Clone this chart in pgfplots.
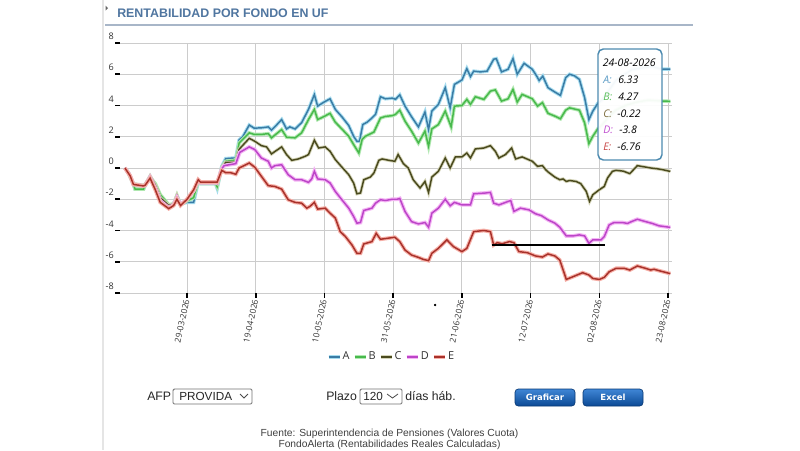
\documentclass[border=0pt]{standalone}
\usepackage{pgfplots}
\pgfplotsset{compat=1.18}
\usepackage{fontspec}
\setmainfont{Liberation Sans}
\newfontfamily\segoe{Open Sans}
\newfontfamily\verdana{DejaVu Sans}
\definecolor{cA}{HTML}{3A7CA5}
\definecolor{cB}{HTML}{48B94C}
\definecolor{cC}{HTML}{4A4A1E}
\definecolor{cD}{HTML}{BC45C8}
\definecolor{cE}{HTML}{A8322B}
\definecolor{hA}{HTML}{A6DCEF}
\definecolor{hB}{HTML}{B0E8B0}
\definecolor{hC}{HTML}{D4D4B8}
\definecolor{hD}{HTML}{F4B4F4}
\definecolor{hE}{HTML}{F6B0A8}
\definecolor{tA}{HTML}{5B9BC5}
\definecolor{tB}{HTML}{5BBF5B}
\definecolor{tC}{HTML}{7A6A3A}
\definecolor{tD}{HTML}{C050D0}
\definecolor{tE}{HTML}{C84848}
\definecolor{titleblue}{HTML}{5076A0}
\definecolor{btnTop}{HTML}{3F86D6}
\definecolor{btnBot}{HTML}{0B4994}
\begin{document}
\begin{tikzpicture}
\useasboundingbox (0,0) rectangle (600pt,-337.5pt);
\fill[white] (0,0) rectangle (600pt,-337.5pt);
\begin{axis}[
  at={(90pt,-219.75pt)}, anchor=south west,
  scale only axis, width=414pt, height=187.5pt,
  xmin=-20.5, xmax=148.2, ymin=-8, ymax=8,
  clip=false,
  axis line style={draw=none},
  tick pos=left, tick align=outside,
  major tick length=3.5pt,
  every tick/.style={black, line width=1.2pt},
  grid=major, grid style={color=black!20, line width=0.75pt},
  xtick={0,21,42,63,84,105,126,147},
  xticklabels={29-03-2026,19-04-2026,10-05-2026,31-05-2026,21-06-2026,12-07-2026,02-08-2026,23-08-2026},
  xticklabel style={rotate=78, anchor=east, font=\segoe\fontsize{6.3}{7}\selectfont, text=black!80, inner sep=1.5pt},
  ytick={-8,-6,-4,-2,0,2,4,6,8},
  yticklabels={-8,-6,-4,-2,0,2,4,6,8},
  yticklabel style={font=\segoe\fontsize{6.8}{7}\selectfont, text=black!80, yshift=5pt, inner xsep=1pt},
  legend columns=5,
  legend style={at={(0.491,-0.256)}, anchor=center, draw=none, fill=none,
    font=\segoe\fontsize{8.2}{9}\selectfont, text=black!80,
    nodes={inner sep=0.8pt},
    /tikz/every even column/.append style={column sep=1.6pt}},
  legend image code/.code={\draw[#1] (0pt,0pt) -- (8.5pt,0pt);},
]
\addplot[cA, line width=1.1pt, preaction={draw=hA, line width=2.6pt}] coordinates {
(-19.0,0.0) (-17.9,-0.3) (-16.4,-1.0) (-15.9,-1.35) (-13.3,-1.35) (-12.8,-1.1) (-11.3,-0.55) (-9.7,-1.1) (-8.2,-1.8) (-5.6,-2.4) (-4.1,-2.3) (-3.1,-1.8) (-2.0,-2.3) (0.0,-2.2) (2.0,-2.2) (3.4,-0.9) (4.1,-1.0) (8.7,-1.0) (9.2,-1.3) (10.6,0.1) (11.8,0.6) (14.9,0.65) (15.9,1.8) (17.0,2.0) (19.0,2.75) (20.5,2.55) (22.7,2.57) (24.8,2.63) (25.8,2.42) (26.8,2.63) (28.9,3.1) (30.4,2.5) (31.4,2.63) (33.0,2.5) (35.0,2.9) (37.1,3.75) (38.9,4.7) (39.9,3.96) (41.7,4.2) (43.7,4.43) (45.3,3.75) (47.3,3.28) (49.4,2.72) (50.9,2.03) (51.9,1.71) (52.7,1.71) (53.7,2.78) (55.0,2.93) (56.5,3.2) (57.6,3.43) (59.1,4.56) (60.6,4.43) (62.7,4.47) (63.7,4.4) (65.0,4.68) (66.6,3.96) (68.6,3.28) (70.7,2.63) (72.7,3.58) (73.8,2.46) (74.8,3.64) (76.8,4.07) (78.9,5.14) (80.4,3.85) (81.7,5.35) (84.0,5.63) (85.5,6.36) (86.6,5.85) (87.6,6.2) (89.6,6.15) (91.7,6.2) (93.7,6.96) (94.5,7.0) (96.1,6.15) (98.1,6.32) (99.6,7.0) (100.9,6.0) (103.0,6.7) (105.5,6.32) (106.8,5.9) (107.6,5.6) (108.7,5.88) (110.3,5.14) (112.4,4.86) (114.1,4.65) (115.7,5.78) (116.9,6.0) (118.4,5.9) (119.9,5.67) (121.5,4.5) (122.8,3.1) (124.0,3.64) (125.5,4.13) (127.0,4.4) (129.0,5.0) (131.0,5.6) (133.0,5.9) (136.0,6.3) (139.0,6.4) (142.0,6.5) (145.2,6.32) (147.7,6.33)
};
\addlegendentry{A}
\addplot[cB, line width=1.1pt, preaction={draw=hB, line width=2.6pt}] coordinates {
(-19.0,0.0) (-17.9,-0.35) (-16.4,-1.05) (-15.9,-1.35) (-13.3,-1.35) (-12.8,-1.05) (-11.3,-0.6) (-9.7,-1.0) (-8.2,-1.7) (-5.6,-2.35) (-4.1,-2.3) (-3.1,-1.75) (-2.0,-2.35) (0.0,-2.1) (2.0,-1.9) (3.4,-0.85) (4.1,-1.0) (8.7,-1.0) (9.2,-1.2) (10.6,0.05) (11.8,0.43) (14.9,0.5) (15.9,1.6) (19.0,2.25) (20.5,2.15) (22.7,2.15) (24.8,2.2) (25.8,1.93) (26.8,2.1) (28.9,2.46) (30.4,1.97) (33.0,1.93) (35.0,2.25) (37.1,3.1) (38.9,3.75) (39.9,3.1) (41.7,3.28) (43.7,3.5) (45.3,2.93) (47.3,2.5) (49.4,2.03) (50.9,1.5) (52.5,0.96) (53.5,1.82) (54.5,2.03) (57.1,2.3) (59.1,3.2) (60.6,3.3) (62.7,3.35) (63.7,3.43) (65.0,3.7) (66.6,3.0) (68.6,2.36) (70.7,1.6) (72.7,2.36) (73.8,1.39) (74.8,2.5) (76.8,2.78) (78.9,3.64) (80.7,2.63) (81.7,3.96) (84.0,4.0) (85.5,4.39) (86.6,4.07) (88.1,4.56) (90.7,4.39) (92.7,4.92) (94.2,5.0) (96.1,4.28) (98.1,4.43) (99.6,5.03) (100.9,4.22) (102.4,4.71) (105.5,4.43) (107.1,3.96) (108.6,4.18) (110.3,3.5) (112.4,3.32) (114.1,3.15) (115.7,3.7) (116.9,3.85) (119.9,3.7) (121.5,2.89) (122.8,1.56) (124.0,2.03) (125.5,2.5) (127.0,2.8) (129.0,3.3) (131.0,3.7) (134.0,4.0) (137.0,4.2) (141.0,4.35) (145.2,4.28) (147.7,4.27)
};
\addlegendentry{B}
\addplot[cC, line width=1.1pt, preaction={draw=hC, line width=2.4pt}] coordinates {
(-19.0,0.0) (-17.4,-0.5) (-16.4,-1.0) (-13.3,-1.1) (-12.8,-1.05) (-11.3,-0.5) (-9.7,-1.1) (-8.2,-1.9) (-5.6,-2.4) (-4.1,-2.3) (-3.1,-1.75) (-2.0,-2.35) (0.0,-2.0) (2.0,-1.5) (3.4,-0.8) (4.1,-0.95) (8.7,-0.95) (9.2,-1.0) (10.6,0.0) (11.8,0.36) (14.9,0.36) (15.9,1.2) (19.0,1.9) (20.7,1.71) (22.7,1.43) (24.3,1.35) (25.8,0.9) (26.8,1.05) (28.9,1.35) (30.4,0.86) (32.0,0.49) (34.0,0.58) (36.1,0.75) (37.1,0.86) (38.9,1.78) (40.2,1.28) (42.2,1.35) (43.7,1.07) (45.3,0.54) (47.3,0.06) (49.4,-0.43) (50.9,-0.96) (51.9,-1.65) (53.0,-1.6) (54.0,-0.75) (56.0,-0.58) (57.1,-0.32) (58.6,0.49) (59.6,0.58) (61.7,0.49) (63.5,0.43) (64.5,0.86) (66.1,0.28) (67.6,0.0) (69.1,-0.75) (71.2,-1.28) (72.7,-0.86) (73.8,-1.56) (74.8,-0.58) (76.8,-0.21) (78.9,0.64) (80.4,0.0) (82.0,0.71) (84.0,0.71) (85.5,0.96) (86.6,0.64) (88.1,1.22) (90.7,1.28) (92.7,1.43) (94.2,1.07) (95.3,0.64) (97.3,0.86) (99.2,1.28) (100.4,0.58) (102.4,0.71) (105.5,0.43) (107.1,0.11) (108.6,0.15) (109.6,-0.11) (110.3,-0.25) (112.4,-0.58) (113.9,-0.75) (114.9,-0.7) (115.9,-0.86) (116.9,-0.8) (118.9,-0.86) (120.3,-1.0) (122.0,-1.5) (123.0,-2.14) (124.0,-1.71) (126.0,-1.39) (127.5,-1.18) (128.5,-0.64) (130.0,-0.21) (131.1,-0.15) (133.3,-0.2) (135.3,-0.36) (137.6,0.15) (140.1,0.06) (141.7,0.0) (143.7,-0.05) (145.2,-0.1) (147.7,-0.22)
};
\addlegendentry{C}
\addplot[cD, line width=1.1pt, preaction={draw=hD, line width=2.8pt}] coordinates {
(-19.0,0.0) (-17.4,-0.5) (-16.4,-1.05) (-13.3,-1.15) (-12.8,-1.1) (-11.3,-0.6) (-9.7,-1.3) (-8.2,-2.1) (-5.6,-2.55) (-4.1,-2.35) (-3.1,-1.9) (-2.0,-2.35) (0.0,-2.0) (2.0,-1.45) (3.4,-0.8) (4.1,-0.95) (8.7,-0.95) (9.2,-0.95) (10.6,-0.05) (11.3,0.15) (14.9,0.28) (16.1,1.0) (19.0,1.35) (20.7,1.18) (22.7,0.64) (24.8,0.43) (25.8,0.0) (26.8,0.15) (28.9,0.21) (30.9,-0.43) (33.0,-0.75) (35.0,-0.75) (37.1,-0.92) (38.1,-0.7) (38.9,-0.21) (39.9,-0.7) (42.2,-0.75) (43.7,-0.96) (45.3,-1.5) (47.3,-2.03) (49.4,-2.57) (50.9,-3.1) (51.9,-3.53) (53.0,-3.49) (54.0,-2.72) (56.5,-2.57) (57.6,-2.25) (59.1,-2.03) (60.6,-2.08) (62.7,-2.0) (64.2,-2.0) (65.0,-1.95) (66.6,-2.78) (68.6,-3.43) (70.7,-3.58) (72.7,-3.49) (73.8,-3.79) (74.8,-2.89) (76.8,-2.57) (78.9,-2.0) (80.4,-2.42) (81.7,-2.2) (84.0,-2.36) (86.6,-2.36) (87.6,-1.65) (91.2,-1.6) (92.7,-1.56) (93.7,-2.25) (95.3,-2.36) (98.9,-2.08) (99.9,-2.78) (101.9,-2.57) (104.5,-2.68) (106.5,-2.93) (108.3,-3.05) (110.3,-3.32) (112.4,-3.53) (113.9,-3.79) (115.9,-4.35) (117.9,-4.35) (119.9,-4.28) (121.5,-4.35) (122.8,-4.82) (124.0,-4.6) (126.5,-4.6) (127.5,-4.39) (129.0,-3.64) (130.5,-3.49) (133.1,-3.49) (134.6,-3.55) (135.6,-3.45) (137.6,-3.28) (140.1,-3.43) (142.2,-3.55) (144.2,-3.7) (147.7,-3.8)
};
\addlegendentry{D}
\addplot[cE, line width=1.1pt, preaction={draw=hE, line width=2.8pt}] coordinates {
(-19.0,0.0) (-17.4,-0.5) (-16.4,-1.05) (-13.3,-1.15) (-12.8,-1.1) (-11.3,-0.65) (-9.7,-1.4) (-8.2,-2.2) (-5.6,-2.6) (-4.1,-2.4) (-3.1,-2.0) (-2.0,-2.4) (0.0,-2.0) (2.0,-1.4) (3.4,-0.75) (4.1,-0.9) (8.7,-0.9) (9.2,-0.9) (10.6,-0.15) (11.8,-0.3) (13.3,-0.3) (14.9,-0.4) (15.9,0.0) (19.0,0.32) (20.7,0.05) (22.7,-0.53) (24.8,-1.13) (26.8,-1.18) (28.9,-1.35) (30.9,-2.03) (33.0,-2.2) (35.0,-2.25) (36.6,-2.57) (37.6,-2.45) (38.9,-2.2) (39.9,-2.63) (42.2,-2.57) (43.7,-2.89) (45.3,-3.2) (46.8,-4.07) (48.4,-4.39) (50.4,-4.93) (51.9,-5.46) (53.0,-5.46) (54.0,-4.86) (56.5,-4.71) (57.8,-4.18) (59.1,-4.56) (61.2,-4.5) (63.5,-4.43) (65.0,-4.71) (66.6,-5.25) (68.6,-5.57) (70.7,-5.72) (72.2,-5.85) (73.8,-5.93) (74.8,-5.46) (76.8,-5.14) (79.4,-4.6) (81.4,-5.03) (84.0,-5.35) (85.5,-5.14) (87.6,-4.07) (90.7,-4.0) (92.7,-4.07) (93.7,-4.93) (94.8,-4.78) (96.3,-4.85) (98.5,-4.71) (99.9,-4.78) (101.4,-5.35) (104.0,-5.42) (106.5,-5.63) (108.6,-5.7) (110.3,-5.5) (112.4,-5.63) (113.9,-5.89) (115.9,-7.13) (117.9,-6.96) (120.9,-6.7) (122.8,-6.85) (124.0,-7.07) (126.0,-7.13) (127.5,-7.0) (129.0,-6.64) (131.1,-6.42) (133.6,-6.42) (135.3,-6.53) (137.6,-6.27) (140.1,-6.42) (141.7,-6.53) (142.7,-6.48) (144.2,-6.57) (147.7,-6.76)
};
\addlegendentry{E}
\addplot[black, line width=1pt, forget plot] coordinates {(93.1,-4.92) (127.8,-4.92)};
\addplot[black, only marks, mark=*, mark size=0.7pt, forget plot] coordinates {(75.8,-8.77)};
\end{axis}
\begin{scope}[x=0.75pt,y=-0.75pt]
  % page frame and title
  \draw[black!10, line width=0.8pt] (103,0) -- (103,450);
  \fill[black!60] (105.5,5.5) -- (108,8) -- (105.5,10.5) -- cycle;
  \node[anchor=west, inner sep=0pt, text=titleblue, font=\bfseries\fontsize{9.3}{10}\selectfont] at (117,13.5) {RENTABILIDAD POR FONDO EN UF};
  \draw[color={rgb,255:red,168;green,182;blue,200}, line width=1.2pt] (105,25) -- (693,25);
  % tooltip
  \draw[rounded corners=4pt, draw={rgb,255:red,77;green,139;blue,176}, line width=1.1pt, fill=white, fill opacity=0.95] (598,49) rectangle (662,160);
  \begin{scope}[every node/.style={anchor=west, inner sep=0pt, font=\segoe\itshape\fontsize{7.9}{8}\selectfont}]
    \node at (602.5,62.7) {24-08-2026};
    \node[text=tA] at (603,80) {A:};   \node at (618,80) {6.33};
    \node[text=tB] at (603,96.7) {B:}; \node at (618,96.7) {4.27};
    \node[text=tC] at (603,113.3) {C:};\node at (617,113.3) {-0.22};
    \node[text=tD] at (603,130) {D:};  \node at (619,130) {-3.8};
    \node[text=tE] at (603,146.7) {E:};\node at (617,146.7) {-6.76};
  \end{scope}
  % controls
  \begin{scope}[every node/.style={anchor=base west, inner sep=0pt, text=black!85}]
    \node[font=\fontsize{9.2}{10}\selectfont] at (147,400) {AFP};
    \node[font=\fontsize{8.8}{10}\selectfont] at (179,400) {PROVIDA};
    \node[font=\fontsize{9.2}{10}\selectfont] at (326,400) {Plazo};
    \node[font=\fontsize{8.8}{10}\selectfont] at (363,400) {120};
    \node[font=\fontsize{9.2}{10}\selectfont] at (405,400) {días háb.};
  \end{scope}
  \draw[black!55, line width=0.7pt, rounded corners=1pt] (173,389) rectangle (252,404);
  \draw[black!70, line width=0.6pt] (240,394) -- (244,398) -- (248,394);
  \draw[black!55, line width=0.7pt, rounded corners=1pt] (360,389) rectangle (402,404);
  \draw[black!70, line width=0.6pt] (387,394) -- (392.5,398) -- (398,394);
  \shade[top color=btnTop, bottom color=btnBot, rounded corners=2.5pt] (515,389) rectangle (575,406);
  \draw[btnBot!80!black, line width=0.5pt, rounded corners=2.5pt] (515,389) rectangle (575,406);
  \shade[top color=btnTop, bottom color=btnBot, rounded corners=2.5pt] (583,389) rectangle (643,406);
  \draw[btnBot!80!black, line width=0.5pt, rounded corners=2.5pt] (583,389) rectangle (643,406);
  \node[text=white, font=\verdana\bfseries\fontsize{6.4}{7}\selectfont, inner sep=0pt] at (545,397.5) {Graficar};
  \node[text=white, font=\verdana\bfseries\fontsize{6.4}{7}\selectfont, inner sep=0pt] at (613,397.5) {Excel};
  % footer
  \node[text=black!75, font=\fontsize{7.7}{8}\selectfont, inner sep=0pt] at (389.5,434) {Fuente: Superintendencia de Pensiones (Valores Cuota)};
  \node[text=black!75, font=\fontsize{7.7}{8}\selectfont, inner sep=0pt] at (389.5,444.5) {FondoAlerta (Rentabilidades Reales Calculadas)};
\end{scope}
\end{tikzpicture}
\end{document}
